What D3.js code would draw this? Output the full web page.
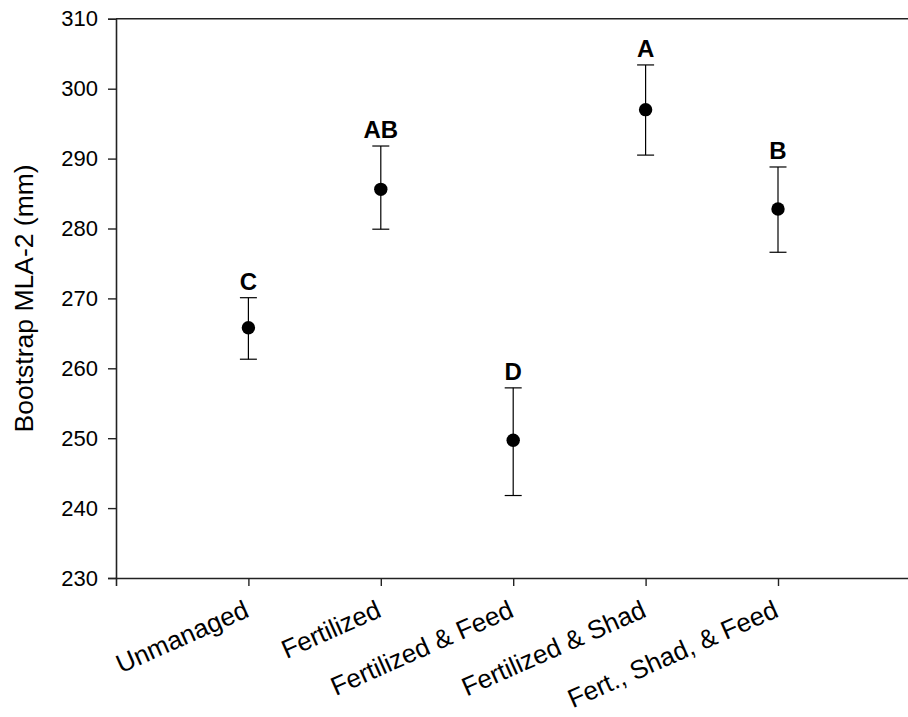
<!DOCTYPE html>
<html>
<head>
<meta charset="utf-8">
<script src="https://cdn.jsdelivr.net/npm/d3@7"></script>
<style>
  html, body { margin: 0; padding: 0; background: #fff; }
  svg { display: block; }
  text { font-family: "Liberation Sans", Arial, Helvetica, sans-serif; fill: #000; }
</style>
</head>
<body>
<svg id="chart" width="908" height="717"></svg>
<script>
// Treatment groups, bootstrap MLA-2 means and interval bounds (mm)
const categories = ["Unmanaged", "Fertilized", "Fertilized & Feed", "Fertilized & Shad", "Fert., Shad, & Feed"];
const means      = [265.8, 285.6, 249.7, 297.0, 282.8];
const upper      = [270.1, 291.8, 257.2, 303.4, 288.8];
const lower      = [261.3, 279.9, 241.8, 290.5, 276.6];
const groupLetters = ["C", "AB", "D", "A", "B"];
const yTicks     = [230, 240, 250, 260, 270, 280, 290, 300, 310];

const svg = d3.select("#chart");

const x = d3.scaleLinear().domain([0, categories.length + 1]).range([116, 910.4]);
const y = d3.scaleLinear().domain([230, 310]).range([578, 18.8]);

const axisColor = "#222";

// Y axis
const yAxis = svg.append("g")
  .attr("transform", `translate(${x(0)},0)`)
  .call(d3.axisLeft(y).tickValues(yTicks).tickSize(8).tickPadding(10).tickFormat(d3.format("d")));
yAxis.select(".domain").attr("stroke", axisColor).attr("stroke-width", 1.6);
yAxis.selectAll(".tick line").attr("stroke", axisColor).attr("stroke-width", 1.4);
yAxis.selectAll(".tick text").style("font-size", "22px").attr("fill", "#000");

// X axis
const xAxis = svg.append("g")
  .attr("transform", `translate(0,${y(230)})`)
  .call(d3.axisBottom(x).tickValues(d3.range(1, categories.length + 1)).tickSize(8).tickFormat(""));
xAxis.select(".domain").attr("stroke", axisColor).attr("stroke-width", 1.6);
xAxis.selectAll(".tick line").attr("stroke", axisColor).attr("stroke-width", 1.4);

// Top border
svg.append("line")
  .attr("x1", x(0)).attr("x2", x(categories.length + 1))
  .attr("y1", y(310)).attr("y2", y(310))
  .attr("stroke", axisColor).attr("stroke-width", 1.6);

// Rotated category labels
svg.append("g").selectAll("text")
  .data(categories)
  .join("text")
  .attr("text-anchor", "end")
  .attr("transform", (d, i) => `translate(${x(i + 1) + 2},${y(230) + 38}) rotate(-24)`)
  .style("font-size", "26px")
  .text(d => d);

// Y axis title
svg.append("text")
  .attr("transform", `translate(33,${(y(230) + y(310)) / 2}) rotate(-90)`)
  .attr("text-anchor", "middle")
  .style("font-size", "26.5px")
  .text("Bootstrap MLA-2 (mm)");

// Error bars, caps and means
const g = svg.append("g");
const capHalf = 8.5;
categories.forEach((c, i) => {
  const cx = x(i + 1);
  g.append("line").attr("x1", cx).attr("x2", cx)
    .attr("y1", y(lower[i])).attr("y2", y(upper[i]))
    .attr("stroke", "#000").attr("stroke-width", 1.2);
  [upper[i], lower[i]].forEach(v => {
    g.append("line").attr("x1", cx - capHalf).attr("x2", cx + capHalf)
      .attr("y1", y(v)).attr("y2", y(v))
      .attr("stroke", "#000").attr("stroke-width", 1.2);
  });
  g.append("circle").attr("cx", cx).attr("cy", y(means[i])).attr("r", 6.7).attr("fill", "#000");
  g.append("text")
    .attr("x", cx).attr("y", y(upper[i]) - 8)
    .attr("text-anchor", "middle")
    .style("font-size", "24px").style("font-weight", "bold")
    .text(groupLetters[i]);
});
</script>
</body>
</html>
